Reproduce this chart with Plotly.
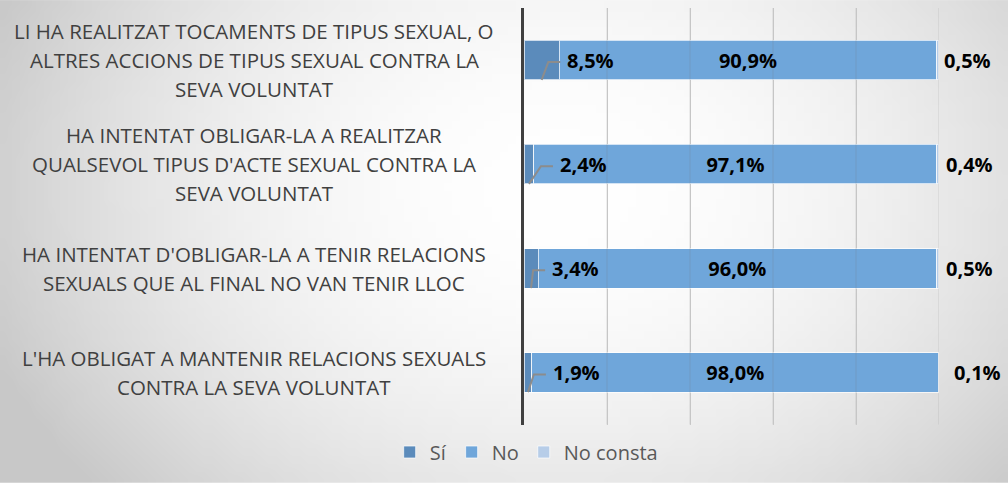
import base64
import struct
import zlib

import numpy as np
import plotly.graph_objects as go

# ---------------- data ----------------
categories = [
    "LI HA REALITZAT TOCAMENTS DE TIPUS SEXUAL, O<br>ALTRES ACCIONS DE TIPUS SEXUAL CONTRA LA<br>SEVA VOLUNTAT",
    "HA INTENTAT OBLIGAR-LA A REALITZAR<br>QUALSEVOL TIPUS D'ACTE SEXUAL CONTRA LA<br>SEVA VOLUNTAT",
    "HA INTENTAT D'OBLIGAR-LA A TENIR RELACIONS<br>SEXUALS QUE AL FINAL NO VAN TENIR LLOC",
    "L'HA OBLIGAT A MANTENIR RELACIONS SEXUALS<br>CONTRA LA SEVA VOLUNTAT",
]
si = [8.5, 2.4, 3.4, 1.9]
no = [90.9, 97.1, 96.0, 98.0]
no_consta = [0.5, 0.4, 0.5, 0.1]
series_names = ["Sí", "No", "No consta"]
x_ticks = [0, 20, 40, 60, 80, 100]

# ---------------- style ----------------
col_si = "#5b8bbb"
col_no = "#6fa6da"
col_nc = "#b7cde8"
txt_grey = "#404040"
label_font = "Open Sans"
si_label_shift = [6, 24, 12, 19]      # px offset of Sí labels from segment end
nc_label_shift = [3, 5, 5, 13]        # px offset of No consta labels


def fmt(v):
    return f"{v:.1f}".replace(".", ",") + "%"


# ---------------- background gradient image ----------------
W, H = 1008, 489
gw, gh = 126, 62
xs = (np.arange(gw) + 0.5) / gw * W
ys = (np.arange(gh) + 0.5) / gh * H
X, Y = np.meshgrid(xs, ys)
r2 = ((X - 560) / 560) ** 2 + ((Y - 190) / 430) ** 2
val = np.clip(255 - 46 * r2, 200, 255).astype(np.uint8)
raw = b"".join(b"\x00" + bytes(np.repeat(row, 3).tobytes()) for row in val)


def chunk(tag, data):
    c = struct.pack(">I", len(data)) + tag + data
    return c + struct.pack(">I", zlib.crc32(tag + data) & 0xFFFFFFFF)


png = b"\x89PNG\r\n\x1a\n" + chunk(b"IHDR", struct.pack(">IIBBBBB", gw, gh, 8, 2, 0, 0, 0)) \
    + chunk(b"IDAT", zlib.compress(raw, 9)) + chunk(b"IEND", b"")
bg_uri = "data:image/png;base64," + base64.b64encode(png).decode()

# ---------------- figure ----------------
ml, mr, mt, mb = 524, 69, 8, 59
pw = W - ml - mr
ph = H - mt - mb
ypos = list(range(len(categories)))

fig = go.Figure()
bar_line = dict(color="rgba(255,255,255,0.7)", width=1)
fig.add_trace(go.Bar(y=ypos, x=si, name=series_names[0], orientation="h",
                     marker=dict(color=col_si, line=bar_line), width=0.38,
                     hoverinfo="skip"))
fig.add_trace(go.Bar(y=ypos, x=no, name=series_names[1], orientation="h",
                     marker=dict(color=col_no, line=bar_line), width=0.38,
                     text=[fmt(v) for v in no], textposition="inside",
                     insidetextanchor="middle",
                     textfont=dict(family=label_font, size=20, color="black", weight="bold"),
                     constraintext="none", hoverinfo="skip"))
fig.add_trace(go.Bar(y=ypos, x=no_consta, name=series_names[2], orientation="h",
                     marker=dict(color=col_nc, line=bar_line), width=0.38,
                     hoverinfo="skip"))

# px -> data conversions
px_x = 100.0 / pw
px_y = len(categories) / ph

annotations = []
shapes = []
for i, cat in enumerate(categories):
    lines = cat.split("<br>")
    n = len(lines)
    for j, ln in enumerate(lines):
        annotations.append(dict(
            text=ln, xref="paper", yref="y", x=(254 - ml) / pw, y=i,
            xanchor="center", yanchor="middle", showarrow=False,
            yshift=-(j - (n - 1) / 2) * 29,
            font=dict(family=label_font, size=20.5, color=txt_grey)))
    # Sí label + leader line
    annotations.append(dict(
        text=fmt(si[i]), x=si[i], y=i, xref="x", yref="y", xanchor="left",
        yanchor="middle", xshift=si_label_shift[i], showarrow=False,
        font=dict(family=label_font, size=20, color="black", weight="bold")))
    tx = si[i] + (si_label_shift[i] + 2) * px_x
    shapes.append(dict(
        type="path", xref="x", yref="y", layer="above",
        path=f"M {si[i] / 2} {i + 20 * px_y} L {tx - 19 * px_x} {i + 2 * px_y} L {tx - 7 * px_x} {i + 2 * px_y}",
        line=dict(color="#8c8c8c", width=2)))
    # No consta label
    total = si[i] + no[i] + no_consta[i]
    annotations.append(dict(
        text=fmt(no_consta[i]), x=total, y=i, xref="x", yref="y", xanchor="left",
        yanchor="middle", xshift=nc_label_shift[i], showarrow=False,
        font=dict(family=label_font, size=20, color="black", weight="bold")))

# gridlines drawn faintly over the bars
for t in x_ticks[1:]:
    shapes.append(dict(type="line", xref="x", yref="paper", x0=t, x1=t, y0=0, y1=1,
                       layer="above", line=dict(color="rgba(120,120,120,0.22)", width=1)))

fig.update_layout(
    width=W, height=H,
    margin=dict(l=ml, r=mr, t=mt, b=mb),
    barmode="stack",
    paper_bgcolor="white",
    plot_bgcolor="rgba(0,0,0,0)",
    showlegend=True,
    legend=dict(orientation="h", xref="container", yref="container",
                x=0.522, xanchor="center", y=1 - 452 / H, yanchor="middle",
                font=dict(family=label_font, size=20, color="#595959"),
                bgcolor="rgba(0,0,0,0)", traceorder="normal", itemwidth=30),
    xaxis=dict(range=[0, 100], tickvals=x_ticks, showticklabels=False,
               showgrid=True, gridcolor="#d0d0d0", gridwidth=1, zeroline=False,
               fixedrange=True),
    yaxis=dict(range=[len(categories) - 0.5, -0.5], tickvals=ypos,
               showticklabels=False, showgrid=False, zeroline=False,
               showline=True, linecolor="#404040", linewidth=3, ticks=""),
    annotations=annotations,
    shapes=shapes,
    images=[dict(source=bg_uri, xref="paper", yref="paper",
                 x=-ml / pw, y=1 + mt / ph, sizex=W / pw, sizey=H / ph,
                 xanchor="left", yanchor="top", sizing="stretch", layer="below")],
)

fig.write_html(
    "out.html",
    config={"displayModeBar": False},
    post_script="document.body.style.margin='0';document.body.style.overflow='hidden';",
)
